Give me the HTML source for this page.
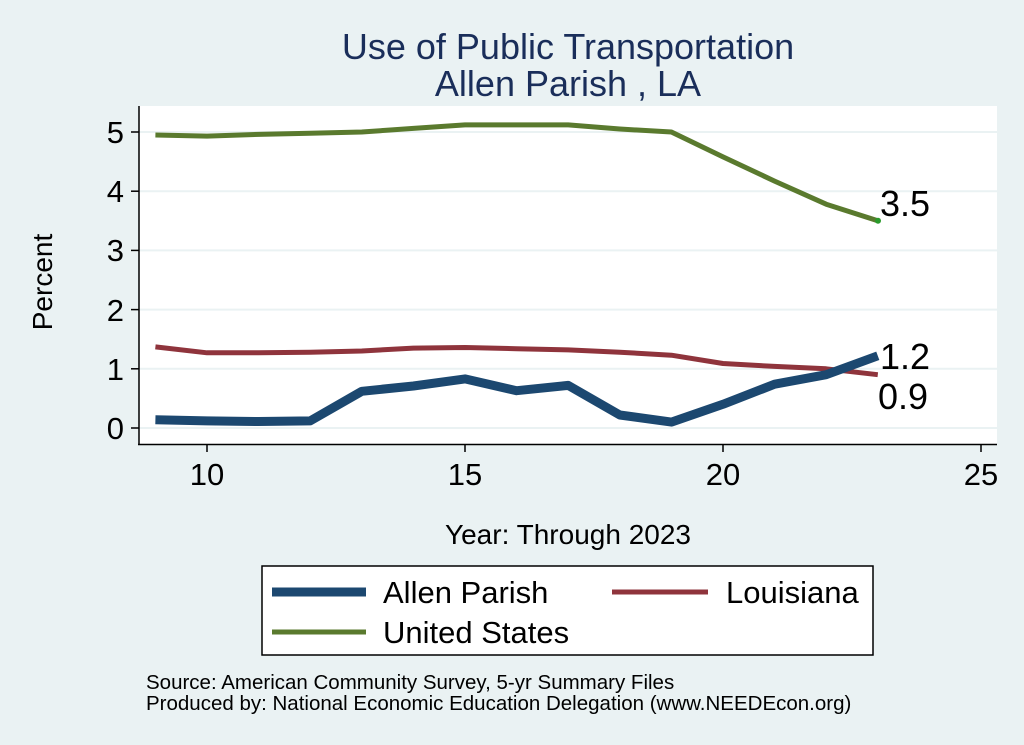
<!DOCTYPE html>
<html><head><meta charset="utf-8"><style>
body{margin:0;background:#eaf2f3;}
svg{display:block;font-family:"Liberation Sans",Arial,sans-serif;}
</style></head><body>
<svg id="s" width="1024" height="745" xmlns="http://www.w3.org/2000/svg">
<rect width="1024" height="745" fill="#eaf2f3"/>
<text x="568" y="59" font-size="36" fill="#1a2e5a" text-anchor="middle">Use of Public Transportation</text>
<text x="568" y="96" font-size="36" fill="#1a2e5a" text-anchor="middle">Allen Parish , LA</text>
<rect x="139" y="106" width="858" height="338" fill="#fff"/>
<g stroke="#eaf2f3" stroke-width="2">
<line x1="139" x2="997" y1="428" y2="428"/><line x1="139" x2="997" y1="368.8" y2="368.8"/>
<line x1="139" x2="997" y1="309.6" y2="309.6"/><line x1="139" x2="997" y1="250.4" y2="250.4"/>
<line x1="139" x2="997" y1="191.2" y2="191.2"/><line x1="139" x2="997" y1="132" y2="132"/>
</g>
<g stroke="#000" stroke-width="1.5">
<line x1="139" y1="106" x2="139" y2="445"/><line x1="138" y1="444.5" x2="997" y2="444.5"/>
<line x1="131" x2="139" y1="428" y2="428"/><line x1="131" x2="139" y1="368.8" y2="368.8"/>
<line x1="131" x2="139" y1="309.6" y2="309.6"/><line x1="131" x2="139" y1="250.4" y2="250.4"/>
<line x1="131" x2="139" y1="191.2" y2="191.2"/><line x1="131" x2="139" y1="132" y2="132"/>
<line x1="207" x2="207" y1="444" y2="452"/><line x1="465" x2="465" y1="444" y2="452"/>
<line x1="723" x2="723" y1="444" y2="452"/><line x1="981" x2="981" y1="444" y2="452"/>
</g>
<g font-size="31" fill="#000" text-anchor="end">
<text x="124" y="439">0</text><text x="124" y="380">1</text><text x="124" y="321">2</text>
<text x="124" y="261">3</text><text x="124" y="202">4</text><text x="124" y="143">5</text>
</g>
<g font-size="31" fill="#000" text-anchor="middle">
<text x="207" y="485">10</text><text x="465" y="485">15</text><text x="723" y="485">20</text><text x="981" y="485">25</text>
</g>
<text x="568" y="544" font-size="28" text-anchor="middle">Year: Through 2023</text>
<text transform="translate(52,282) rotate(-90)" font-size="28" text-anchor="middle">Percent</text>
<g id="lines" fill="none" stroke-linejoin="round"></g>
<circle cx="878" cy="220.8" r="3" fill="#2a9a2a"/>
<g font-size="36" fill="#000">
<text x="880" y="216">3.5</text><text x="880" y="369">1.2</text><text x="878" y="409">0.9</text>
</g>
<rect x="262" y="566" width="611" height="89" fill="#fff" stroke="#000" stroke-width="1.5"/>
<line x1="272" x2="366" y1="592" y2="592" stroke="#1c4870" stroke-width="9"/>
<line x1="612" x2="708" y1="592" y2="592" stroke="#8f343c" stroke-width="5"/>
<line x1="272" x2="366" y1="632" y2="632" stroke="#5a7a2e" stroke-width="5"/>
<g font-size="31"><text x="383" y="603">Allen Parish</text><text x="726" y="603">Louisiana</text><text x="383" y="643">United States</text></g>
<g font-size="20.5"><text x="146" y="689">Source: American Community Survey, 5-yr Summary Files</text>
<text x="146" y="710">Produced by: National Economic Education Delegation (www.NEEDEcon.org)</text></g>
</svg>
<script>
var d={us:[4.95,4.93,4.96,4.98,5.0,5.06,5.12,5.12,5.12,5.05,5.0,4.58,4.17,3.78,3.5],
la:[1.37,1.27,1.27,1.28,1.3,1.35,1.36,1.34,1.32,1.28,1.23,1.09,1.04,1.0,0.9],
al:[0.14,0.12,0.11,0.12,0.62,0.71,0.83,0.63,0.72,0.22,0.1,0.4,0.74,0.9,1.22]};
var st={us:["#5a7a2e",5],la:["#8f343c",5],al:["#1c4870",9]};
var g=document.getElementById("lines");
["us","la","al"].forEach(function(k){var p=d[k].map(function(v,i){return (207+(i-1)*51.6).toFixed(1)+","+(428-v*59.2).toFixed(1)}).join(" ");
var e=document.createElementNS("http://www.w3.org/2000/svg","polyline");e.setAttribute("points",p);e.setAttribute("stroke",st[k][0]);e.setAttribute("stroke-width",st[k][1]);g.appendChild(e);});
</script>
</body></html>
